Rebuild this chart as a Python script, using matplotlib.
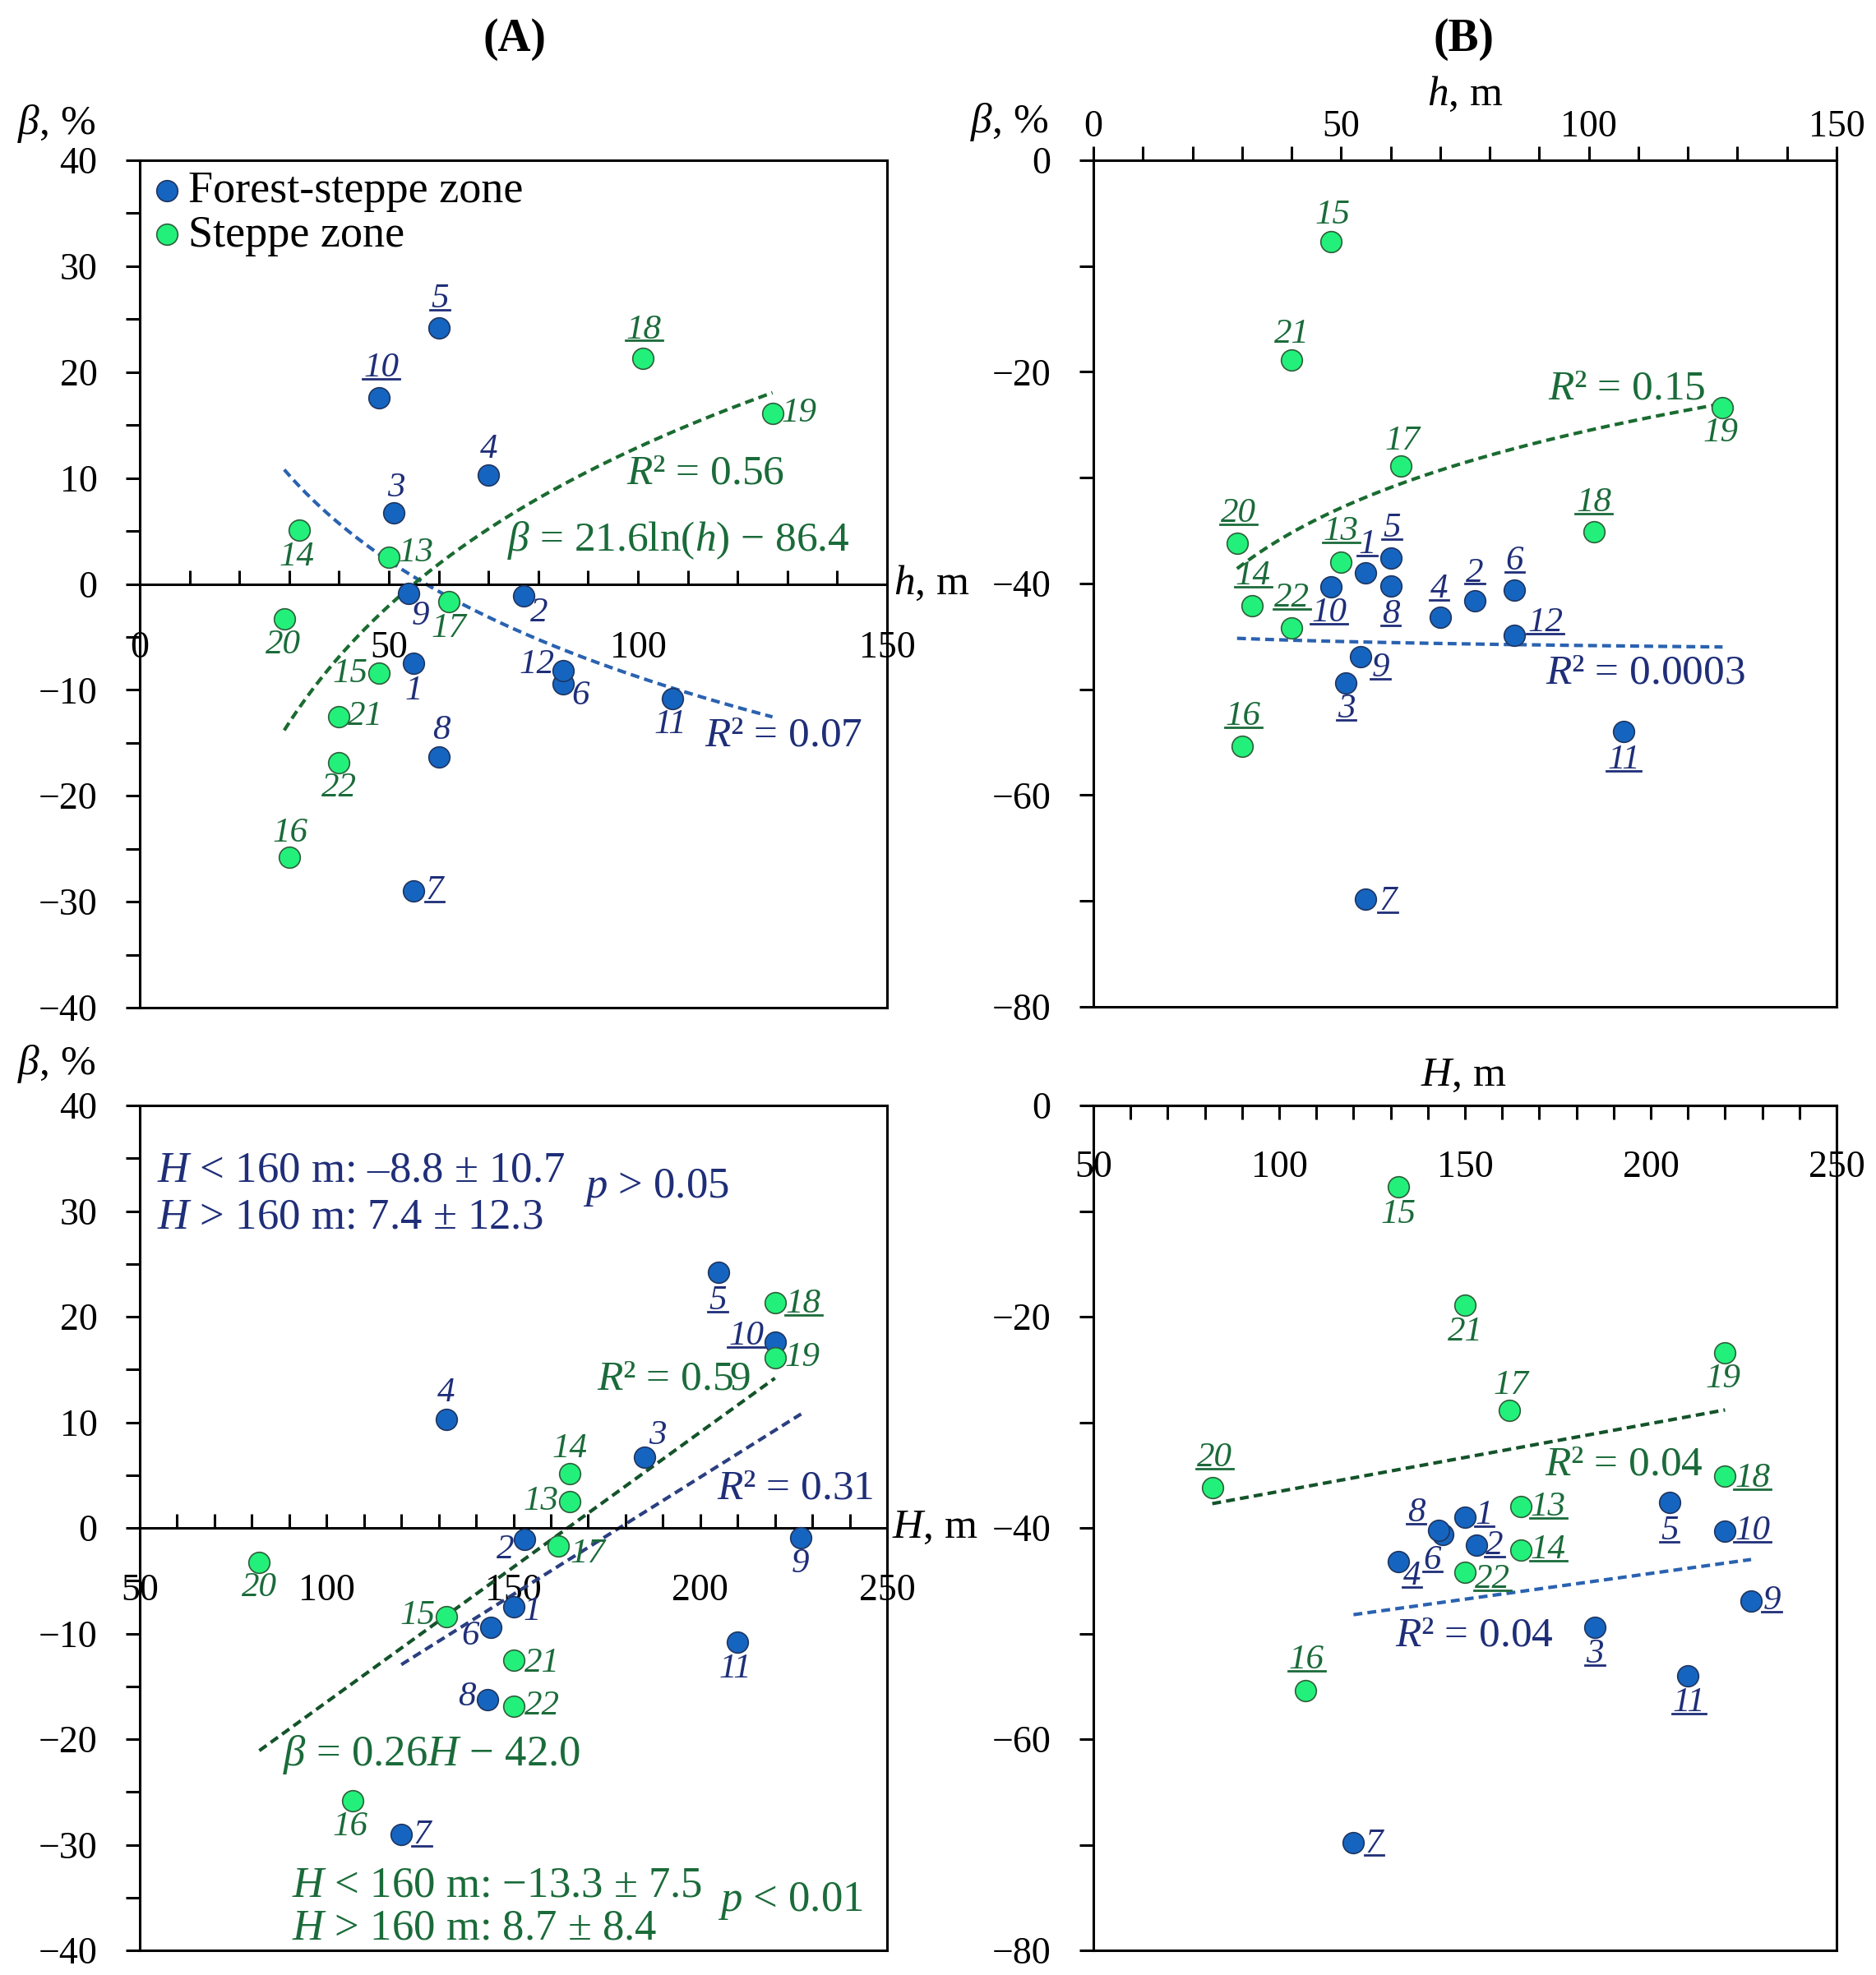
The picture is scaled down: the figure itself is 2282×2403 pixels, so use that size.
import matplotlib
matplotlib.use("Agg")
import matplotlib.pyplot as plt
import numpy as np
from matplotlib.lines import Line2D
from matplotlib.ticker import MultipleLocator

# sites 1-12 are in the forest-steppe zone, 13-22 in the steppe zone
site = list(range(1, 23))
n_forest = 12

# local relief h, m and absolute height H, m (no H for site 12)
h_m = [55, 77, 51, 70, 60, 85, 55, 60, 54, 48, 107, 85,
       50, 32, 48, 30, 62, 101, 127, 29, 40, 40]
H_m = [150, 153, 185, 132, 205, 144, 120, 143, 227, 220, 210, np.nan,
       165, 165, 132, 107, 162, 220, 220, 82, 150, 150]

# beta, % for panel (A) and panel (B)
beta_a = [-7.5, -1.1, 6.7, 10.3, 24.2, -9.4, -29.0, -16.3, -0.9, 17.6, -10.8, -8.2,
          2.5, 5.1, -8.4, -25.8, -1.7, 21.3, 16.1, -3.3, -12.5, -16.9]
beta_b = [-39.0, -41.6, -49.4, -43.2, -37.6, -40.6, -69.8, -40.2, -46.9, -40.3, -54.0, -44.9,
          -38.0, -42.1, -7.7, -55.4, -28.9, -35.1, -23.4, -36.2, -18.9, -44.2]

zone_labels = ["Forest-steppe zone", "Steppe zone"]

# underlined site numbers
under_a = {5, 7, 10, 18}
under_b = set(site) - {15, 17, 19, 21}

# label offsets (points) for each panel
off_a_h = {1: (0, -24), 2: (14, -15), 3: (2, 22), 4: (0, 22), 5: (1, 25), 6: (15, -11),
           7: (18, 0), 8: (2, 23), 9: (10, -20), 10: (2, 26), 11: (-2, -23), 12: (-23, 5),
           13: (24, 4), 14: (-2, -24), 15: (-25, -1), 16: (1, 21), 17: (0, -23), 18: (1, 25),
           19: (23, 0), 20: (-1, -23), 21: (23, 0), 22: (0, -22)}
off_b_h = {1: (1, 25), 2: (0, 24), 3: (0, -23), 4: (-1, 25), 5: (1, 26), 6: (0, 25),
           7: (19, -2), 8: (0, -25), 9: (17, -10), 10: (-2, -23), 11: (0, -25), 12: (27, 11),
           13: (0, 27), 14: (1, 26), 15: (1, 23), 16: (1, 26), 17: (2, 22), 18: (0, 25),
           19: (-2, -22), 20: (1, 26), 21: (0, 23), 22: (0, 26)}
off_a_H = {1: (16, -4), 2: (-17, -9), 3: (12, 19), 4: (0, 23), 5: (-1, -25), 6: (-18, -8),
           7: (18, -1), 8: (-18, 3), 9: (-1, -23), 10: (-25, 5), 11: (-2, -24),
           13: (-25, 0), 14: (0, 22), 15: (-25, 1), 16: (-2, -23), 17: (26, -7), 18: (25, -1),
           19: (24, 0), 20: (0, -22), 21: (25, -3), 22: (25, 0)}
off_b_H = {1: (17, 2), 2: (16, -1), 3: (0, -24), 4: (12, -13), 5: (0, -25), 6: (-9, -23),
           7: (18, -1), 8: (-20, 15), 9: (18, 0), 10: (24, 0), 11: (1, -24),
           13: (24, 0), 14: (24, 0), 15: (0, -24), 16: (1, 27), 17: (1, 22), 18: (24, -2),
           19: (-2, -23), 20: (2, 26), 21: (0, -24), 22: (24, -6)}

BLUE = "#1565c0"
GREEN = "#22f07a"
BLUE_EDGE = "#1f3560"
GREEN_EDGE = "#2e5e3a"
BLUE_TXT = "#1f2e78"
GREEN_TXT = "#1b6b3a"

plt.rcParams["font.family"] = ["Liberation Serif", "DejaVu Serif"]
plt.rcParams["mathtext.fontset"] = "custom"
plt.rcParams["mathtext.rm"] = "Liberation Serif"
plt.rcParams["mathtext.it"] = "Liberation Serif:italic"
plt.rcParams["mathtext.bf"] = "Liberation Serif:bold"

W, H = 2282, 2403
fig = plt.figure(figsize=(W / 100, H / 100), dpi=100)


def px_axes(left, top, right, bottom):
    return fig.add_axes([left / W, 1 - bottom / H, (right - left) / W, (bottom - top) / H])


def style(ax, xlim, ylim, xmaj, ymaj, ymin):
    ax.set_xlim(*xlim)
    ax.set_ylim(*ylim)
    for sp in ax.spines.values():
        sp.set_linewidth(2.2)
    ax.xaxis.set_major_locator(MultipleLocator(xmaj))
    ax.xaxis.set_minor_locator(MultipleLocator(10))
    ax.yaxis.set_major_locator(MultipleLocator(ymaj))
    ax.yaxis.set_minor_locator(MultipleLocator(ymin))
    ax.tick_params(axis="y", which="both", direction="out", length=12, width=2.2,
                   pad=25, labelsize=33)
    ax.tick_params(axis="x", which="both", length=12, width=2.2, labelsize=33)


def frame_bottom(ax):
    ax.plot([0, 1], [0, 0], transform=ax.transAxes, color="k", lw=2.2, clip_on=False, zorder=6)


def points(ax, x, y, offsets, underlined):
    x = np.asarray(x, float)
    y = np.asarray(y, float)
    ok = ~np.isnan(x)
    idx = np.arange(len(site))
    f = ok & (idx < n_forest)
    s = ok & (idx >= n_forest)
    ax.scatter(x[f], y[f], s=340, color=BLUE, edgecolors=BLUE_EDGE, linewidths=1.2,
               zorder=4, label=zone_labels[0])
    ax.scatter(x[s], y[s], s=340, color=GREEN, edgecolors=GREEN_EDGE, linewidths=1.2,
               zorder=4, label=zone_labels[1])
    texts = []
    for i, n in enumerate(site):
        if not ok[i]:
            continue
        dx, dy = offsets[n]
        t = ax.annotate(str(n), (x[i], y[i]), xytext=(dx, dy), textcoords="offset points",
                        ha="center", va="center", fontsize=31, style="italic",
                        color=BLUE_TXT if i < n_forest else GREEN_TXT, zorder=5)
        if n in underlined:
            texts.append(t)
    return texts


def trend(ax, x, y, group, kind, span, color):
    x = np.asarray(x, float)
    y = np.asarray(y, float)
    idx = np.arange(len(site))
    m = ~np.isnan(x) & ((idx < n_forest) if group == "forest" else (idx >= n_forest))
    if span is None:
        span = (x[m].min(), x[m].max())
    xs = np.linspace(span[0], span[1], 200)
    if kind == "log":
        a, b = np.polyfit(np.log(x[m]), y[m], 1)
        ys = a * np.log(xs) + b
    else:
        a, b = np.polyfit(x[m], y[m], 1)
        ys = a * xs + b
    ax.plot(xs, ys, ls=(0, (2.6, 1.5)), lw=3, color=color, zorder=2)


h_span = (min(h_m), max(h_m))
underlined = []

# ---- (A) top: beta vs h
ax1 = px_axes(170, 195, 1079, 1226)
style(ax1, (0, 150), (-40, 40), 50, 10, 5)
ax1.spines["bottom"].set_position(("data", 0))
ax1.tick_params(axis="x", which="both", direction="in", pad=41)
frame_bottom(ax1)
trend(ax1, h_m, beta_a, "forest", "log", h_span, "#2a62b0")
trend(ax1, h_m, beta_a, "steppe", "log", h_span, "#1a6b30")
underlined += points(ax1, h_m, beta_a, off_a_h, under_a)
ax1.legend(loc="upper left", frameon=False, fontsize=39, handlelength=0.75,
           handletextpad=0.1, borderaxespad=0.12, borderpad=0.12, labelspacing=0.05,
           scatterpoints=1)
ax1.annotate("$h$, m", xy=(1.0, 0), xycoords=("axes fraction", "data"), xytext=(6, 0),
             textcoords="offset points", ha="left", va="center", fontsize=37,
             annotation_clip=False)
ax1.text(113.6, 10.4, "$R$² = 0.56", color=GREEN_TXT, fontsize=37, ha="center", va="center")
ax1.text(108.2, 4.1, "$β$ = 21.6ln($h$) − 86.4", color=GREEN_TXT, fontsize=37,
         ha="center", va="center")
ax1.text(129.2, -14.3, "$R$² = 0.07", color=BLUE_TXT, fontsize=37, ha="center", va="center")

# ---- (B) top: beta vs h
ax2 = px_axes(1330, 195, 2234, 1225)
style(ax2, (0, 150), (-80, 0), 50, 20, 10)
ax2.xaxis.tick_top()
ax2.xaxis.set_label_position("top")
ax2.tick_params(axis="x", which="both", direction="out", pad=2)
ax2.set_xlabel("$h$, m", fontsize=37, labelpad=4)
trend(ax2, h_m, beta_b, "forest", "log", h_span, "#2a62b0")
trend(ax2, h_m, beta_b, "steppe", "log", h_span, "#1a6b30")
underlined += points(ax2, h_m, beta_b, off_b_h, under_b)
ax2.text(107.7, -21.6, "$R$² = 0.15", color=GREEN_TXT, fontsize=37, ha="center", va="center")
ax2.text(111.4, -48.5, "$R$² = 0.0003", color=BLUE_TXT, fontsize=37, ha="center", va="center")

# ---- (A) bottom: beta vs H
ax3 = px_axes(170, 1345, 1079, 2373)
style(ax3, (50, 250), (-40, 40), 50, 10, 5)
ax3.spines["bottom"].set_position(("data", 0))
ax3.tick_params(axis="x", which="both", direction="in", pad=40)
frame_bottom(ax3)
trend(ax3, H_m, beta_a, "forest", "lin", None, "#2b3f80")
trend(ax3, H_m, beta_a, "steppe", "lin", None, "#14532a")
underlined += points(ax3, H_m, beta_a, off_a_H, under_a)
ax3.annotate("$H$, m", xy=(1.0, 0), xycoords=("axes fraction", "data"), xytext=(4, 0),
             textcoords="offset points", ha="left", va="center", fontsize=37,
             annotation_clip=False)
ax3.text(54.6, 33.8, "$H$ < 160 m: –8.8 ± 10.7", color=BLUE_TXT, fontsize=38, va="center")
ax3.text(54.6, 29.4, "$H$ > 160 m: 7.4 ± 12.3", color=BLUE_TXT, fontsize=38, va="center")
ax3.text(168.7, 32.2, "$p$ > 0.05", color=BLUE_TXT, fontsize=38, va="center")
ax3.text(213.5, 14.1, "$R$² = 0.59", color=GREEN_TXT, fontsize=37, ha="right", va="center")
ax3.text(225.5, 3.7, "$R$² = 0.31", color=BLUE_TXT, fontsize=37, ha="center", va="center")
ax3.text(88.2, -21.5, "$β$ = 0.26$H$ − 42.0", color=GREEN_TXT, fontsize=38, va="center")
ax3.text(90.6, -33.9, "$H$ < 160 m: −13.3 ± 7.5", color=GREEN_TXT, fontsize=38, va="center")
ax3.text(90.6, -37.9, "$H$ > 160 m: 8.7 ± 8.4", color=GREEN_TXT, fontsize=38, va="center")
ax3.text(204.7, -35.3, "$p$ < 0.01", color=GREEN_TXT, fontsize=38, va="center")

# ---- (B) bottom: beta vs H
ax4 = px_axes(1330, 1345, 2234, 2373)
style(ax4, (50, 250), (-80, 0), 50, 20, 10)
ax4.spines["bottom"].set_position(("data", 0))
ax4.tick_params(axis="x", which="both", direction="out", pad=27)
frame_bottom(ax4)
trend(ax4, H_m, beta_b, "forest", "lin", None, "#2a62b0")
trend(ax4, H_m, beta_b, "steppe", "lin", None, "#14532a")
underlined += points(ax4, H_m, beta_b, off_b_H, under_b)
ax4.text(192.8, -34.0, "$R$² = 0.04", color=GREEN_TXT, fontsize=37, ha="center", va="center")
ax4.text(152.6, -50.2, "$R$² = 0.04", color=BLUE_TXT, fontsize=37, ha="center", va="center")

# figure-level labels
fig.text(626 / W, 1 - 48 / H, "(A)", fontsize=40, fontweight="bold", ha="center", va="center")
fig.text(1781 / W, 1 - 48 / H, "(B)", fontsize=40, fontweight="bold", ha="center", va="center")
for x, y in [(69, 150), (1228, 148), (69, 1295)]:
    fig.text(x / W, 1 - y / H, "$β$, %", fontsize=37, ha="center", va="center")
fig.text(1780 / W, 1 - 1309 / H, "$H$, m", fontsize=37, ha="center", va="center")

# underline selected site numbers
fig.canvas.draw()
renderer = fig.canvas.get_renderer()
inv = fig.transFigure.inverted()
for t in underlined:
    bb = t.get_window_extent(renderer)
    fs_px = t.get_fontsize() * fig.dpi / 72
    y = bb.y0 + 0.14 * fs_px
    (x0, y0), (x1, y1) = inv.transform([(bb.x0 - 1, y), (bb.x1 + 1, y)])
    fig.add_artist(Line2D([x0, x1], [y0, y1], transform=fig.transFigure,
                          color=t.get_color(), lw=2))

fig.savefig("out.png", dpi=100)
